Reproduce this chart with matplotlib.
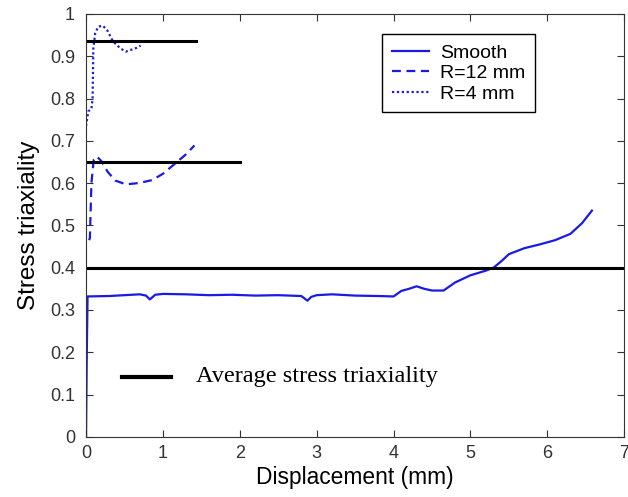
import numpy as np
import matplotlib.pyplot as plt

plt.rcParams["font.family"] = ["Liberation Sans", "DejaVu Sans"]

# Smooth specimen
smooth_x = [0.0, 0.01, 0.02, 0.3, 0.5, 0.7, 0.78, 0.83, 0.9, 1.0, 1.3, 1.6, 1.9, 2.2, 2.5,
            2.8, 2.88, 2.93, 3.0, 3.2, 3.5, 3.8, 4.0, 4.1, 4.2, 4.3, 4.4, 4.5, 4.65,
            4.8, 5.0, 5.2, 5.3, 5.4, 5.5, 5.7, 5.9, 6.1, 6.3, 6.45, 6.58]
smooth_y = [0.0, 0.2, 0.332, 0.333, 0.335, 0.337, 0.334, 0.325, 0.336, 0.338, 0.337, 0.335,
            0.336, 0.334, 0.335, 0.333, 0.322, 0.331, 0.335, 0.337, 0.334, 0.333, 0.332,
            0.345, 0.35, 0.356, 0.35, 0.346, 0.346, 0.365, 0.382, 0.393, 0.40, 0.415,
            0.432, 0.446, 0.455, 0.465, 0.48, 0.505, 0.535]

# R = 12 mm notch
r12_x = [0.04, 0.05, 0.07, 0.1, 0.14, 0.2, 0.28, 0.38, 0.52, 0.68, 0.86, 1.0, 1.17, 1.3, 1.41]
r12_y = [0.465, 0.47, 0.6, 0.655, 0.663, 0.652, 0.627, 0.606, 0.597, 0.6, 0.607, 0.622,
         0.648, 0.668, 0.689]

# R = 4 mm notch
r4_x = [0.0, 0.03, 0.07, 0.085, 0.095, 0.12, 0.16, 0.22, 0.28, 0.35, 0.45, 0.52, 0.6, 0.66, 0.71]
r4_y = [0.735, 0.77, 0.775, 0.8, 0.92, 0.955, 0.97, 0.972, 0.96, 0.935, 0.918, 0.911,
        0.916, 0.92, 0.925]

# average stress triaxiality lines: (x_end, level)
avg_levels = [0.937, 0.65, 0.40]
avg_xend = [1.43, 2.0, 7.0]

fig = plt.figure(figsize=(6.28, 4.97), dpi=100)
ax = fig.add_axes([0.137, 0.121, 0.857, 0.851])

blue = "#1a1ae6"
ax.plot(smooth_x, smooth_y, color=blue, lw=1.6, label="Smooth")
ax.plot(r12_x, r12_y, color=blue, lw=1.6, ls=(0, (4, 2.5)), label="R=12 mm")
ax.plot(r4_x, r4_y, color=blue, lw=1.6, ls=(0, (1, 1.2)), label="R=4 mm")

for lvl, xe in zip(avg_levels, avg_xend):
    ax.plot([0, xe], [lvl, lvl], color="black", lw=2.2)

ax.set_xlim(0, 7)
ax.set_ylim(0, 1)
ax.set_xticks(range(8))
ax.set_yticks(np.arange(0, 1.01, 0.1))
ax.set_yticklabels(["0", "0.1", "0.2", "0.3", "0.4", "0.5", "0.6", "0.7", "0.8", "0.9", "1"])
ax.tick_params(direction="in", top=True, right=True, labelsize=13, length=5,
               color="#333333", labelcolor="#333333")
ax.tick_params(axis="x", pad=6)
ax.tick_params(axis="y", pad=8)
for s in ax.spines.values():
    s.set_color("#333333")
ax.set_xlabel("Displacement (mm)", fontsize=16.4, labelpad=3)
ax.set_ylabel("Stress triaxiality", fontsize=17.5, labelpad=7)

leg = ax.legend(loc="upper right", bbox_to_anchor=(0.835, 0.952), fontsize=14,
                fancybox=False, edgecolor="black", framealpha=1,
                handlelength=1.9, handletextpad=0.6, borderpad=0.5,
                labelspacing=0.15, borderaxespad=0)
leg.get_frame().set_linewidth(1.0)

ax.plot([0.47, 1.11], [0.142, 0.142], color="black", lw=3)
ax.text(1.43, 0.142, "Average stress triaxiality", fontsize=17.5,
        family="Liberation Serif", va="center", ha="left")

fig.savefig("out.png", dpi=100)
